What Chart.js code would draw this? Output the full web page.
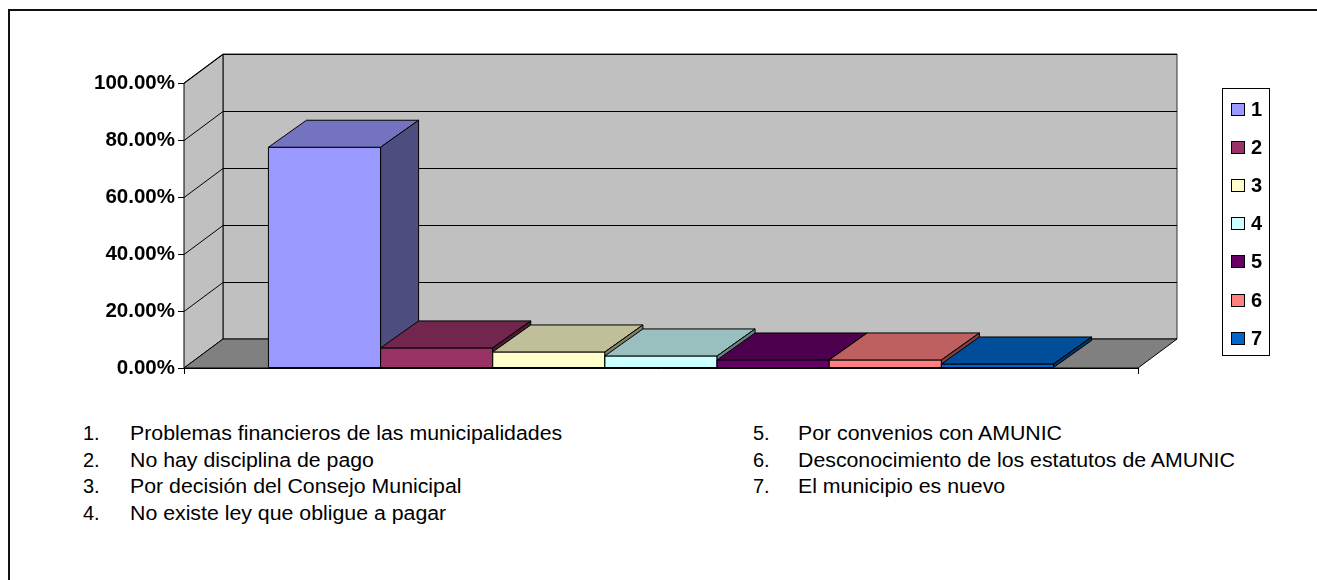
<!DOCTYPE html>
<html>
<head>
<meta charset="utf-8">
<script src="https://cdn.jsdelivr.net/npm/chart.js@4/dist/chart.umd.min.js"></script>
<style>
  html, body { margin: 0; padding: 0; background: #fff; overflow: hidden; }
  body { width: 1317px; height: 580px; position: relative; font-family: "Liberation Sans", Arial, sans-serif; }
  #frame { position: absolute; left: 8px; top: 9px; width: 1400px; height: 700px; border-left: 2px solid #111; border-top: 2px solid #111; }
  #chart { position: absolute; left: 0; top: 0; }
  #legend { position: absolute; left: 1222px; top: 88px; width: 46px; height: 266px; border: 1px solid #000; }
  .lg-item { position: absolute; left: 8px; height: 20px; }
  .lg-box { position: absolute; left: 0; top: 4px; width: 12px; height: 11px; border: 1px solid #000; }
  .lg-text { position: absolute; left: 20px; top: 0; font: bold 20px/20px "Liberation Sans", Arial, sans-serif; color: #000; }
  .note { position: absolute; font-size: 20px; line-height: 20px; color: #000; white-space: nowrap; }
  .note .txt { display: inline-block; transform: scaleX(1.065); transform-origin: left center; }
</style>
</head>
<body>
<div id="frame"></div>
<canvas id="chart" width="1317" height="400"></canvas>
<div id="legend"></div>
<div id="notes"></div>
<script>
// datos del gráfico
const seriesLabels = ['1', '2', '3', '4', '5', '6', '7'];
const values = [0.7746, 0.0704, 0.0563, 0.0423, 0.0282, 0.0282, 0.0141];
const frontColors = ['#9999FF', '#993366', '#FFFFCC', '#CCFFFF', '#660066', '#FF8080', '#0066CC'];
const notesLeft = [
  'Problemas financieros de las municipalidades',
  'No hay disciplina de pago',
  'Por decisión del Consejo Municipal',
  'No existe ley que obligue a pagar'
];
const notesRight = [
  'Por convenios con AMUNIC',
  'Desconocimiento de los estatutos de AMUNIC',
  'El municipio es nuevo'
];

// profundidad 3D
const WALL_DX = 39, WALL_DY = -29;
const BAR_DX = 38, BAR_DY = -27;

function shade(hex, f) {
  const n = parseInt(hex.slice(1), 16);
  const r = Math.round(((n >> 16) & 255) * f);
  const g = Math.round(((n >> 8) & 255) * f);
  const b = Math.round((n & 255) * f);
  return `rgb(${r},${g},${b})`;
}

function poly(ctx, pts, fill, stroke) {
  ctx.beginPath();
  ctx.moveTo(pts[0][0], pts[0][1]);
  for (let i = 1; i < pts.length; i++) ctx.lineTo(pts[i][0], pts[i][1]);
  ctx.closePath();
  if (fill) { ctx.fillStyle = fill; ctx.fill(); }
  if (stroke) { ctx.strokeStyle = stroke; ctx.stroke(); }
}

// paredes, piso y barras en 3D
const bars3d = {
  id: 'bars3d',
  beforeDatasetsDraw(chart) {
    const { ctx, chartArea: a, scales: { y } } = chart;
    const L = a.left, R = a.right, T = a.top, B = a.bottom;
    ctx.save();
    ctx.lineWidth = 1;
    poly(ctx, [[L + WALL_DX, T + WALL_DY], [R + WALL_DX, T + WALL_DY], [R + WALL_DX, B + WALL_DY], [L + WALL_DX, B + WALL_DY]], '#C0C0C0', '#333');
    poly(ctx, [[L, T], [L + WALL_DX, T + WALL_DY], [L + WALL_DX, B + WALL_DY], [L, B]], '#C0C0C0', '#000');
    poly(ctx, [[L, B], [R, B], [R + WALL_DX, B + WALL_DY], [L + WALL_DX, B + WALL_DY]], '#808080', '#000');
    ctx.strokeStyle = '#000';
    y.ticks.forEach(t => {
      if (t.value === 0) return;
      const py = Math.round(y.getPixelForValue(t.value)) + 0.5;
      ctx.beginPath();
      ctx.moveTo(L, py);
      ctx.lineTo(L + WALL_DX, py + WALL_DY);
      ctx.lineTo(R + WALL_DX, py + WALL_DY);
      ctx.stroke();
    });
    ctx.restore();
  },
  afterDatasetsDraw(chart) {
    const { ctx } = chart;
    ctx.save();
    ctx.lineWidth = 1;
    ctx.lineJoin = 'round';
    chart.data.datasets.forEach((ds, i) => {
      const el = chart.getDatasetMeta(i).data[0];
      const { x, y, base, width } = el.getProps(['x', 'y', 'base', 'width'], true);
      const l = x - width / 2, r = x + width / 2;
      const col = frontColors[i];
      poly(ctx, [[l, y], [r, y], [r, base], [l, base]], col, '#000');
      poly(ctx, [[l, y], [r, y], [r + BAR_DX, y + BAR_DY], [l + BAR_DX, y + BAR_DY]], shade(col, 0.75), '#000');
      poly(ctx, [[r, y], [r + BAR_DX, y + BAR_DY], [r + BAR_DX, base + BAR_DY], [r, base]], shade(col, 0.5), '#000');
    });
    ctx.restore();
  }
};

new Chart(document.getElementById('chart').getContext('2d'), {
  type: 'bar',
  data: {
    labels: [''],
    datasets: seriesLabels.map((lab, i) => ({
      label: lab,
      data: [values[i]],
      backgroundColor: frontColors[i],
      borderColor: '#000',
      borderWidth: 0,
      barPercentage: 1,
      categoryPercentage: 0.823
    }))
  },
  options: {
    responsive: false,
    animation: false,
    devicePixelRatio: 1,
    layout: { padding: { left: 0, top: 83, right: 179, bottom: 0 } },
    plugins: { legend: { display: false }, tooltip: { enabled: false } },
    scales: {
      x: {
        grid: { display: true, drawOnChartArea: false, offset: true, tickLength: 6, color: '#000' },
        border: { display: true, color: '#000' },
        ticks: { display: true },
        afterFit(scale) { scale.height = 32; }
      },
      y: {
        min: 0,
        max: 1,
        ticks: {
          stepSize: 0.2,
          padding: 3,
          color: '#000',
          font: { family: '"Liberation Sans", Arial, sans-serif', size: 20.5, weight: 'bold' },
          callback: v => (v * 100).toFixed(2) + '%'
        },
        grid: { drawOnChartArea: false, tickLength: 6, color: '#000' },
        border: { display: true, color: '#000' },
        afterFit(scale) { scale.width = 184; }
      }
    }
  },
  plugins: [bars3d]
});

// leyenda
const legend = document.getElementById('legend');
seriesLabels.forEach((lab, i) => {
  const item = document.createElement('div');
  item.className = 'lg-item';
  item.style.top = (10 + i * 38.1) + 'px';
  item.innerHTML = `<span class="lg-box" style="background:${frontColors[i]}"></span><span class="lg-text">${lab}</span>`;
  legend.appendChild(item);
});

// notas numeradas
const notes = document.getElementById('notes');
function addNote(num, text, xNum, xText, baseline) {
  const top = baseline - 17;
  const n = document.createElement('div');
  n.className = 'note';
  n.style.left = xNum + 'px';
  n.style.top = top + 'px';
  n.textContent = num + '.';
  notes.appendChild(n);
  const t = document.createElement('div');
  t.className = 'note';
  t.style.left = xText + 'px';
  t.style.top = top + 'px';
  t.innerHTML = `<span class="txt">${text}</span>`;
  notes.appendChild(t);
}
notesLeft.forEach((s, i) => addNote(i + 1, s, 83, 130, 440 + i * 26.7));
notesRight.forEach((s, i) => addNote(i + 5, s, 753, 798, 440 + i * 26.7));
</script>
</body>
</html>
